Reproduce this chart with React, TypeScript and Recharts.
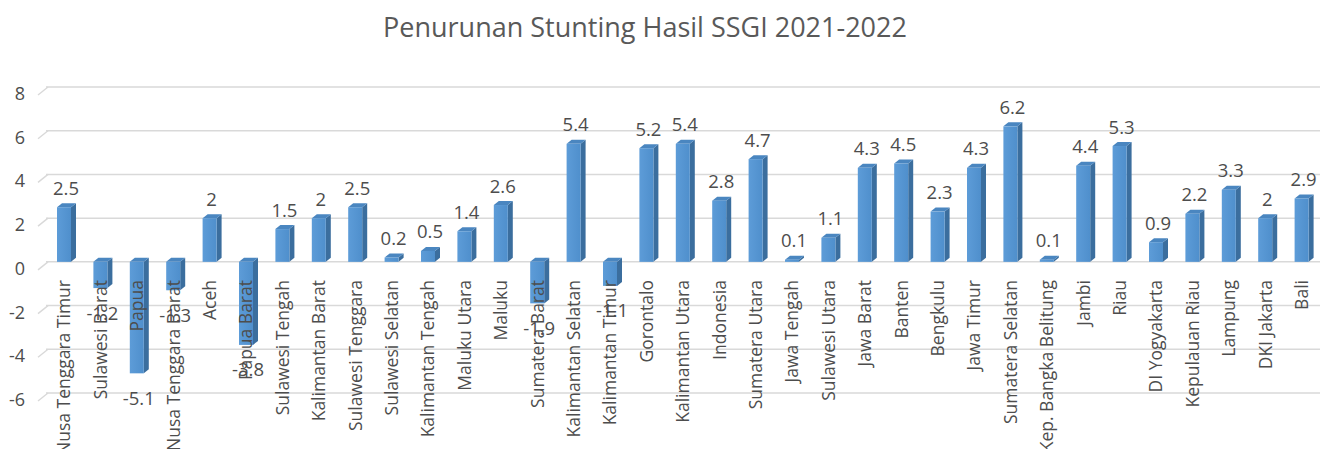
import React from "react";
import { BarChart, Bar, XAxis, YAxis, CartesianGrid, LabelList } from "recharts";

const provinces = [
  "Nusa Tenggara Timur", "Sulawesi Barat", "Papua", "Nusa Tenggara Barat", "Aceh",
  "Papua Barat", "Sulawesi Tengah", "Kalimantan Barat", "Sulawesi Tenggara", "Sulawesi Selatan",
  "Kalimantan Tengah", "Maluku Utara", "Maluku", "Sumatera Barat", "Kalimantan Selatan",
  "Kalimantan Timur", "Gorontalo", "Kalimantan Utara", "Indonesia", "Sumatera Utara",
  "Jawa Tengah", "Sulawesi Utara", "Jawa Barat", "Banten", "Bengkulu",
  "Jawa Timur", "Sumatera Selatan", "Kep. Bangka Belitung", "Jambi", "Riau",
  "DI Yogyakarta", "Kepulauan Riau", "Lampung", "DKI Jakarta", "Bali",
];

const penurunan = [
  2.5, -1.2, -5.1, -1.3, 2,
  -3.8, 1.5, 2, 2.5, 0.2,
  0.5, 1.4, 2.6, -1.9, 5.4,
  -1.1, 5.2, 5.4, 2.8, 4.7,
  0.1, 1.1, 4.3, 4.5, 2.3,
  4.3, 6.2, 0.1, 4.4, 5.3,
  0.9, 2.2, 3.3, 2, 2.9,
];

const yTicks = [-6, -4, -2, 0, 2, 4, 6, 8];

const chartData = provinces.map((name, i) => ({ name, value: penurunan[i] }));

const FONT = "'Open Sans', sans-serif";
const TEXT = "#4d4d4d";
const DEPTH = 5;
const LIFT = 4;

// front face + right side + top, like Excel's 3-D column
function Column3D(props: any) {
  const { x, y, width, height } = props;
  const top = Math.min(y, y + height);
  const h = Math.abs(height);
  const r = x + width;
  return (
    <g>
      <polygon
        points={`${r},${top} ${r + DEPTH},${top - LIFT} ${r + DEPTH},${top + h - LIFT} ${r},${top + h}`}
        fill="#3b6e9e"
      />
      <polygon
        points={`${x},${top} ${x + DEPTH},${top - LIFT} ${r + DEPTH},${top - LIFT} ${r},${top}`}
        fill="#4a86c0"
      />
      <rect x={x} y={top} width={width} height={h} fill="url(#frontGrad)" />
    </g>
  );
}

function ValueLabel(props: any) {
  const { x, y, width, height, value } = props;
  const top = Math.min(y, y + height);
  const bottom = Math.max(y, y + height);
  const cy = value >= 0 ? top - 20 : bottom + 24;
  return (
    <text
      x={x + width / 2 + 2}
      y={cy}
      textAnchor="middle"
      dominantBaseline="central"
      fontSize={18.5}
      fontFamily={FONT}
      fill={TEXT}
    >
      {String(value)}
    </text>
  );
}

function ProvinceTick(props: any) {
  const { x, payload } = props;
  const labelTop = 280;
  return (
    <text
      x={x}
      y={labelTop}
      dy="0.35em"
      transform={`rotate(-90, ${x}, ${labelTop})`}
      textAnchor="end"
      fontSize={17.5}
      fontFamily={FONT}
      fill={TEXT}
    >
      {payload.value}
    </text>
  );
}

function ValueTick(props: any) {
  const { y, payload } = props;
  return (
    <g>
      <line x1={38} y1={y + 8} x2={48} y2={y} stroke="#d9d9d9" strokeWidth={1.5} />
      <text
        x={25}
        y={y + 6}
        textAnchor="end"
        dominantBaseline="central"
        fontSize={18}
        fontFamily={FONT}
        fill={TEXT}
      >
        {payload.value}
      </text>
    </g>
  );
}

export default function App() {
  return (
    <div style={{ position: "absolute", left: 0, top: 0, width: 1322, height: 449, background: "#fff" }}>
      <div
        style={{
          position: "absolute",
          top: 8,
          left: 0,
          width: 1290,
          textAlign: "center",
          fontFamily: FONT,
          fontSize: 27,
          color: "#595959",
          lineHeight: "38px",
        }}
      >
        Penurunan Stunting Hasil SSGI 2021-2022
      </div>
      <BarChart
        width={1322}
        height={449}
        data={chartData}
        margin={{ top: 87, right: 2, left: 0, bottom: 0 }}
      >
        <defs>
          <linearGradient id="frontGrad" x1="0" y1="0" x2="1" y2="0">
            <stop offset="0%" stopColor="#5d9cd8" />
            <stop offset="100%" stopColor="#4f8fcc" />
          </linearGradient>
        </defs>
        <CartesianGrid vertical={false} stroke="#d9d9d9" strokeWidth={1.5} />
        <XAxis
          dataKey="name"
          interval={0}
          height={56}
          axisLine={false}
          tickLine={false}
          tick={<ProvinceTick />}
        />
        <YAxis
          domain={[-6, 8]}
          ticks={yTicks}
          width={46}
          axisLine={false}
          tickLine={false}
          tick={<ValueTick />}
        />
        <Bar dataKey="value" barSize={14} shape={<Column3D />} isAnimationActive={false}>
          <LabelList dataKey="value" content={<ValueLabel />} />
        </Bar>
      </BarChart>
    </div>
  );
}
